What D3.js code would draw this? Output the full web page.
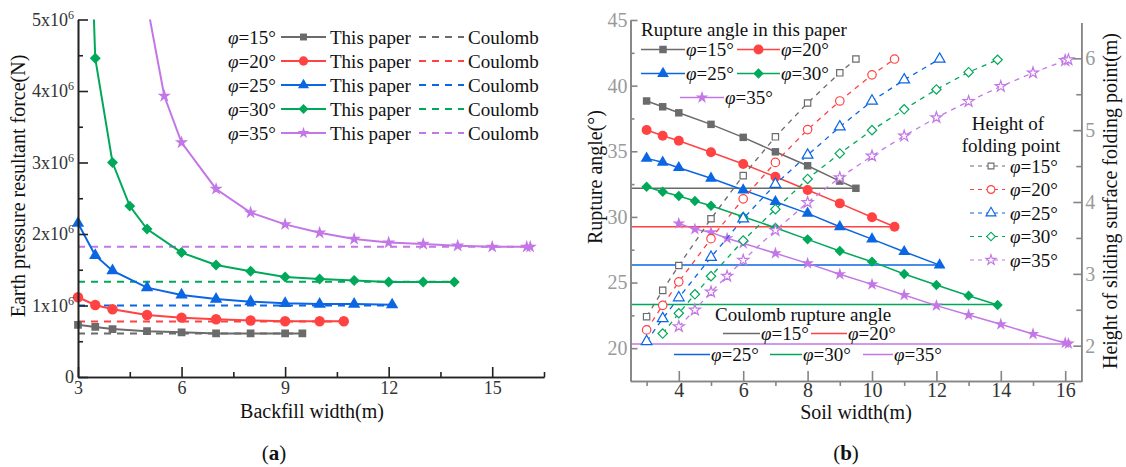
<!DOCTYPE html>
<html>
<head>
<meta charset="utf-8">
<script src="https://cdn.jsdelivr.net/npm/d3@7"></script>
<style>
  body { margin: 0; background: #fff; }
  svg { display: block; }
  text { font-family: "Liberation Serif", "Times New Roman", serif; }
</style>
</head>
<body>
<script>
// ---------- Panel (a): earth pressure resultant force vs backfill width ----------
const phiLabels = ["15", "20", "25", "30", "35"];
const colors = ["#6b6b6b", "#ff4242", "#0b66e4", "#00a85a", "#c377e6"];
const markerTypes = ["square", "circle", "triangle", "diamond", "star"];

const backfill15 = [3, 3.5, 4, 5, 6, 7, 8, 9, 9.5];
const force15 = [0.73, 0.70, 0.67, 0.64, 0.625, 0.61, 0.61, 0.61, 0.61];
const backfill20 = [3, 3.5, 4, 5, 6, 7, 8, 9, 10, 10.7];
const force20 = [1.115, 1.007, 0.947, 0.867, 0.83, 0.807, 0.79, 0.78, 0.78, 0.78];
const backfill25 = [3, 3.5, 4, 5, 6, 7, 8, 9, 10, 11, 12.1];
const force25 = [2.15, 1.70, 1.487, 1.25, 1.147, 1.09, 1.053, 1.03, 1.02, 1.02, 1.01];
const backfill30 = [3, 3.5, 4, 4.5, 5, 6, 7, 8, 9, 10, 11, 12, 13, 13.9];
const force30 = [11.5, 4.457, 3.0, 2.39, 2.07, 1.74, 1.566, 1.48, 1.40, 1.37, 1.35, 1.33, 1.33, 1.33];
const backfill35 = [5, 5.5, 6, 7, 8, 9, 10, 11, 12, 13, 14, 15, 16, 16.1];
const force35 = [5.22, 3.93, 3.28, 2.63, 2.30, 2.135, 2.018, 1.93, 1.88, 1.86, 1.836, 1.82, 1.82, 1.82];
// Coulomb resultant force (x10^6 N), constant with width
const coulombForce = [0.61, 0.775, 1.00, 1.333, 1.82];

const forceTicks = [0, 1, 2, 3, 4, 5];
const backfillTicks = [3, 6, 9, 12, 15];

// ---------- Panel (b): rupture angle and folding point height vs soil width ----------
const soil15 = [3, 3.5, 4, 5, 6, 7, 8, 9, 9.5];
const angle15 = [38.83, 38.39, 37.93, 37.05, 36.06, 34.96, 33.9, 32.73, 32.18];
const height15 = [2.404, 2.77, 3.116, 3.767, 4.367, 4.907, 5.378, 5.798, 5.99];
const soil20 = [3, 3.5, 4, 5, 6, 7, 8, 9, 10, 10.7];
const angle20 = [36.62, 36.18, 35.8, 34.92, 34.03, 33.06, 32.05, 31.03, 29.97, 29.25];
const height20 = [2.22, 2.562, 2.889, 3.49, 4.044, 4.551, 5.008, 5.406, 5.77, 5.99];
const soil25 = [3, 3.5, 4, 5, 6, 7, 8, 9, 10, 11, 12.1];
const angle25 = [34.46, 34.16, 33.75, 32.94, 32.05, 31.16, 30.27, 29.25, 28.31, 27.35, 26.33];
const height25 = [2.058, 2.377, 2.668, 3.231, 3.767, 4.247, 4.653, 5.046, 5.406, 5.70, 5.99];
const soil30 = [3, 3.5, 4, 4.5, 5, 6, 7, 8, 9, 10, 11, 12, 13, 13.9];
const angle30 = [32.3, 31.92, 31.59, 31.21, 30.85, 30.01, 29.18, 28.29, 27.4, 26.59, 25.65, 24.81, 24.0, 23.29];
const soil30h = [3.5, 4, 4.5, 5, 6, 7, 8, 9, 10, 11, 12, 13, 13.9];
const height30 = [2.169, 2.451, 2.715, 2.968, 3.463, 3.9, 4.321, 4.676, 5.0, 5.29, 5.567, 5.807, 5.98];
const soil35 = [4, 4.5, 5, 5.5, 6, 7, 8, 9, 10, 11, 12, 13, 14, 15, 16, 16.1];
const angle35 = [29.5, 29.07, 28.82, 28.37, 27.99, 27.23, 26.46, 25.63, 24.86, 24.05, 23.24, 22.53, 21.82, 21.08, 20.4, 20.35];
const height35 = [2.266, 2.497, 2.747, 2.968, 3.19, 3.605, 3.993, 4.339, 4.64, 4.92, 5.175, 5.4, 5.609, 5.798, 5.97, 5.98];
const coulombAngle = [32.18, 29.25, 26.33, 23.33, 20.32];

const angleTicks = [20, 25, 30, 35, 40, 45];
const heightTicks = [2, 3, 4, 5, 6];
const soilTicks = [4, 6, 8, 10, 12, 14, 16];

const zip = (xs, ys) => xs.map((x, i) => [x, ys[i]]);
const forceSeries = [
  zip(backfill15, force15), zip(backfill20, force20), zip(backfill25, force25),
  zip(backfill30, force30), zip(backfill35, force35)
];
const angleSeries = [
  zip(soil15, angle15), zip(soil20, angle20), zip(soil25, angle25),
  zip(soil30, angle30), zip(soil35, angle35)
];
const heightSeries = [
  zip(soil15, height15), zip(soil20, height20), zip(soil25, height25),
  zip(soil30h, height30), zip(soil35, height35)
];

const svg = d3.select("body").append("svg").attr("width", 1126).attr("height", 467)
  .attr("font-family", "'Liberation Serif', 'Times New Roman', serif");

// marker helper
const symbolOf = { square: d3.symbolSquare, circle: d3.symbolCircle, triangle: d3.symbolTriangle,
                   diamond: d3.symbolSquare, star: d3.symbolStar };
function marker(g, type, x, y, size, fill, stroke, sw) {
  const p = g.append("path")
    .attr("d", d3.symbol(symbolOf[type], size)())
    .attr("transform", `translate(${x},${y})` + (type === "diamond" ? " rotate(45)" : ""))
    .attr("fill", fill);
  if (stroke) p.attr("stroke", stroke).attr("stroke-width", sw || 1.2);
  return p;
}
const sizeA = { square: 60, circle: 85, triangle: 66, diamond: 60, star: 55 };
const sizeB = { square: 56, circle: 78, triangle: 60, diamond: 54, star: 50 };
const sizeOpen = { square: 40, circle: 56, triangle: 50, diamond: 44, star: 38 };

function phiText(g, x, y, num, size) {
  const t = g.append("text").attr("x", x).attr("y", y).attr("dy", "0.35em")
    .attr("font-size", size || 19).attr("fill", "#111");
  t.append("tspan").attr("font-style", "italic").text("φ");
  t.append("tspan").text("=" + num + "°");
  return t;
}

// ===================== Panel (a) =====================
const xA = d3.scaleLinear().domain([3, 16.5]).range([78, 544]);
const yA = d3.scaleLinear().domain([0, 5]).range([377, 19.5]);
const gA = svg.append("g");

svg.append("defs").append("clipPath").attr("id", "clipA")
  .append("rect").attr("x", 0).attr("y", 19.5).attr("width", 560).attr("height", 370);

const plotA = gA.append("g").attr("clip-path", "url(#clipA)");
const lineA = d3.line().x(d => xA(d[0])).y(d => yA(d[1]));

// Coulomb dashed lines
coulombForce.forEach((v, i) => {
  const last = forceSeries[i][forceSeries[i].length - 1][0];
  plotA.append("path").attr("d", lineA([[3, v], [last, v]]))
    .attr("fill", "none").attr("stroke", colors[i]).attr("stroke-width", 2)
    .attr("stroke-dasharray", "7,6");
});
// This paper: lines + markers
forceSeries.forEach((s, i) => {
  plotA.append("path").attr("d", lineA(s)).attr("fill", "none")
    .attr("stroke", colors[i]).attr("stroke-width", 2);
  s.forEach(d => marker(plotA, markerTypes[i], xA(d[0]), yA(d[1]), sizeA[markerTypes[i]], colors[i]));
});

// axes (a)
const axColA = "#222";
const xAxA = gA.append("g").attr("transform", "translate(0,377)")
  .call(d3.axisBottom(xA).tickValues(backfillTicks).tickSizeInner(-10).tickSizeOuter(0).tickPadding(4)
    .tickFormat(d3.format("d")));
gA.append("g").attr("transform", "translate(0,377)")
  .call(d3.axisBottom(xA).tickValues([4.5, 7.5, 10.5, 13.5, 16.5]).tickSizeInner(-5).tickSizeOuter(0).tickFormat(""));
const yAxA = gA.append("g").attr("transform", "translate(78,0)")
  .call(d3.axisLeft(yA).tickValues(forceTicks).tickSizeInner(-10).tickSizeOuter(0).tickPadding(4));
gA.append("g").attr("transform", "translate(78,0)")
  .call(d3.axisLeft(yA).tickValues([0.5, 1.5, 2.5, 3.5, 4.5]).tickSizeInner(-5).tickSizeOuter(0).tickFormat(""));
gA.selectAll(".domain, .tick line").attr("stroke", axColA).attr("stroke-width", 1.6);
xAxA.selectAll("text").attr("font-size", 18).attr("fill", "#333");
yAxA.selectAll("text").attr("font-size", 18).attr("fill", "#333").each(function (d) {
  const t = d3.select(this);
  t.text(null);
  if (d === 0) { t.text("0"); return; }
  t.append("tspan").text(d + "x10");
  t.append("tspan").attr("font-size", 12).attr("dy", "-0.6em").text("6");
});

// axis titles (a)
gA.append("text").attr("x", 312).attr("y", 418).attr("text-anchor", "middle")
  .attr("font-size", 20).attr("fill", "#111").text("Backfill width(m)");
gA.append("text").attr("transform", "translate(25,186) rotate(-90)").attr("text-anchor", "middle")
  .attr("font-size", 20).attr("fill", "#111").text("Earth pressure resultant force(N)");

// legend (a)
phiLabels.forEach((p, i) => {
  const y = 37 + i * 24;
  phiText(gA, 228, y, p, 19);
  gA.append("line").attr("x1", 281).attr("x2", 326).attr("y1", y).attr("y2", y)
    .attr("stroke", colors[i]).attr("stroke-width", 2);
  marker(gA, markerTypes[i], 303.5, y, sizeA[markerTypes[i]] * 0.8, colors[i]);
  gA.append("text").attr("x", 330).attr("y", y).attr("dy", "0.35em").attr("font-size", 19)
    .attr("fill", "#111").text("This paper");
  gA.append("line").attr("x1", 419).attr("x2", 464).attr("y1", y).attr("y2", y)
    .attr("stroke", colors[i]).attr("stroke-width", 2).attr("stroke-dasharray", "7,6");
  gA.append("text").attr("x", 468).attr("y", y).attr("dy", "0.35em").attr("font-size", 19)
    .attr("fill", "#111").text("Coulomb");
});

// panel label
const labA = svg.append("text").attr("x", 274).attr("y", 453).attr("dy", "0.35em")
  .attr("text-anchor", "middle").attr("font-size", 21).attr("fill", "#111");
labA.append("tspan").text("(");
labA.append("tspan").attr("font-weight", "bold").text("a");
labA.append("tspan").text(")");

// ===================== Panel (b) =====================
const xB = d3.scaleLinear().domain([2.5, 16.5]).range([630.5, 1081.3]);
const yB = d3.scaleLinear().domain([17.5, 45]).range([381, 20]);
const yH = d3.scaleLinear().domain([1.5, 6.5]).range([381.6, 22.4]);
const gB = svg.append("g");
const lineB = d3.line().x(d => xB(d[0])).y(d => yB(d[1]));
const lineH = d3.line().x(d => xB(d[0])).y(d => yH(d[1]));

// Coulomb rupture angle (solid horizontal)
coulombAngle.forEach((v, i) => {
  const last = angleSeries[i][angleSeries[i].length - 1][0];
  gB.append("path").attr("d", lineB([[2.5, v], [last, v]])).attr("fill", "none")
    .attr("stroke", colors[i]).attr("stroke-width", 1.5);
});
// rupture angle in this paper
angleSeries.forEach((s, i) => {
  gB.append("path").attr("d", lineB(s)).attr("fill", "none")
    .attr("stroke", colors[i]).attr("stroke-width", 1.5);
  s.forEach(d => marker(gB, markerTypes[i], xB(d[0]), yB(d[1]), sizeB[markerTypes[i]], colors[i]));
});
// height of folding point (dashed, open markers)
heightSeries.forEach((s, i) => {
  gB.append("path").attr("d", lineH(s)).attr("fill", "none")
    .attr("stroke", colors[i]).attr("stroke-width", 1.3).attr("stroke-dasharray", "5,5");
  s.forEach(d => marker(gB, markerTypes[i], xB(d[0]), yH(d[1]), sizeOpen[markerTypes[i]], "#fff", colors[i], 1.2));
});

// axes (b)
const axColB = "#858585";
const fmtInt = d3.format("d");
const xAxB = gB.append("g").attr("transform", "translate(0,381)")
  .call(d3.axisBottom(xB).tickValues(soilTicks).tickSizeInner(-10).tickSizeOuter(0).tickPadding(2)
    .tickFormat(fmtInt));
gB.append("g").attr("transform", "translate(0,381)")
  .call(d3.axisBottom(xB).tickValues([3, 5, 7, 9, 11, 13, 15]).tickSizeInner(5).tickSizeOuter(0).tickFormat(""));
const yAxB = gB.append("g").attr("transform", "translate(630.5,0)")
  .call(d3.axisLeft(yB).tickValues(angleTicks).tickSizeInner(-7).tickSizeOuter(0).tickPadding(3)
    .tickFormat(fmtInt));
gB.append("g").attr("transform", "translate(630.5,0)")
  .call(d3.axisLeft(yB).tickValues([22.5, 27.5, 32.5, 37.5, 42.5]).tickSizeInner(-4).tickSizeOuter(0).tickFormat(""));
const yAxH = gB.append("g").attr("transform", "translate(1081.3,0)")
  .call(d3.axisRight(yH).tickValues(heightTicks).tickSizeInner(-8).tickSizeOuter(0).tickPadding(4)
    .tickFormat(fmtInt));
gB.append("g").attr("transform", "translate(1081.3,0)")
  .call(d3.axisRight(yH).tickValues([2.5, 3.5, 4.5, 5.5]).tickSizeInner(-5).tickSizeOuter(0).tickFormat(""));
gB.selectAll(".domain, .tick line").attr("stroke", axColB).attr("stroke-width", 1.6);
xAxB.selectAll("text").attr("font-size", 20).attr("fill", "#333");
[yAxB, yAxH].forEach(a => a.selectAll("text").attr("font-size", 20).attr("fill", "#9a9a9a"));

// axis titles (b)
gB.append("text").attr("x", 856).attr("y", 419).attr("text-anchor", "middle")
  .attr("font-size", 20).attr("fill", "#111").text("Soil width(m)");
gB.append("text").attr("transform", "translate(602,177) rotate(-90)").attr("text-anchor", "middle")
  .attr("font-size", 20).attr("fill", "#111").text("Rupture angle(°)");
gB.append("text").attr("transform", "translate(1117,201) rotate(-90)").attr("text-anchor", "middle")
  .attr("font-size", 20).attr("fill", "#111").text("Height of sliding surface folding point(m)");

// legend: rupture angle in this paper
gB.append("text").attr("x", 641).attr("y", 29.5).attr("dy", "0.35em").attr("font-size", 19)
  .attr("fill", "#111").text("Rupture angle in this paper");
const legB1 = [
  { i: 0, x1: 641, x2: 685, y: 49.5 }, { i: 1, x1: 737, x2: 780, y: 49.5 },
  { i: 2, x1: 641, x2: 685, y: 73.5 }, { i: 3, x1: 737, x2: 780, y: 73.5 },
  { i: 4, x1: 680, x2: 724, y: 97.5 }
];
legB1.forEach(e => {
  gB.append("line").attr("x1", e.x1).attr("x2", e.x2).attr("y1", e.y).attr("y2", e.y)
    .attr("stroke", colors[e.i]).attr("stroke-width", 1.5);
  marker(gB, markerTypes[e.i], (e.x1 + e.x2) / 2, e.y, sizeB[markerTypes[e.i]], colors[e.i]);
  phiText(gB, e.x2 + 1, e.y, phiLabels[e.i], 19);
});

// legend: height of folding point
gB.append("text").attr("x", 1008).attr("y", 123).attr("dy", "0.35em").attr("text-anchor", "middle")
  .attr("font-size", 19).attr("fill", "#111").text("Height of");
gB.append("text").attr("x", 1011).attr("y", 145.5).attr("dy", "0.35em").attr("text-anchor", "middle")
  .attr("font-size", 19).attr("fill", "#111").text("folding point");
phiLabels.forEach((p, i) => {
  const y = 166 + i * 23.5;
  gB.append("line").attr("x1", 970).attr("x2", 1005).attr("y1", y).attr("y2", y)
    .attr("stroke", colors[i]).attr("stroke-width", 1.2).attr("stroke-dasharray", "4,4");
  marker(gB, markerTypes[i], 991, y, sizeOpen[markerTypes[i]] * 0.85, "#fff", colors[i], 1.1);
  phiText(gB, 1010, y, p, 19);
});

// legend: Coulomb rupture angle
gB.append("text").attr("x", 715).attr("y", 314).attr("dy", "0.35em").attr("font-size", 19)
  .attr("fill", "#111").text("Coulomb rupture angle");
const legB3 = [
  { i: 0, x1: 723, x2: 760, y: 333.5 }, { i: 1, x1: 811, x2: 847, y: 333.5 },
  { i: 2, x1: 674, x2: 710, y: 354.5 }, { i: 3, x1: 770, x2: 802, y: 354.5 },
  { i: 4, x1: 863, x2: 893, y: 354.5 }
];
legB3.forEach(e => {
  gB.append("line").attr("x1", e.x1).attr("x2", e.x2).attr("y1", e.y).attr("y2", e.y)
    .attr("stroke", colors[e.i]).attr("stroke-width", 1.5);
  phiText(gB, e.x2 + 1, e.y, phiLabels[e.i], 19);
});

const labB = svg.append("text").attr("x", 846).attr("y", 453).attr("dy", "0.35em")
  .attr("text-anchor", "middle").attr("font-size", 21).attr("fill", "#111");
labB.append("tspan").text("(");
labB.append("tspan").attr("font-weight", "bold").text("b");
labB.append("tspan").text(")");
</script>
</body>
</html>
